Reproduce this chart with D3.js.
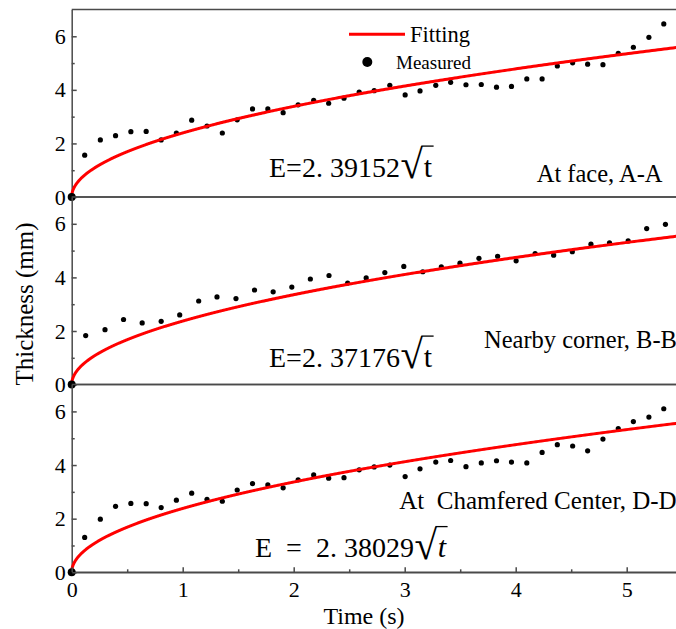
<!DOCTYPE html>
<html>
<head>
<meta charset="utf-8">
<script src="https://cdn.jsdelivr.net/npm/d3@7"></script>
<style>
  html, body { margin: 0; padding: 0; background: #fff; }
  svg { display: block; }
  text { font-family: "Liberation Serif", "Times New Roman", serif; fill: #000; }
</style>
</head>
<body>
<svg id="chart" width="676" height="629"></svg>
<script>
// ---- data ----
const timeA = [0, 0.117, 0.258, 0.395, 0.533, 0.671, 0.806, 0.943, 1.081, 1.219, 1.357, 1.491, 1.629, 1.767, 1.905, 2.04, 2.18, 2.315, 2.453, 2.59, 2.725, 2.866, 3.004, 3.138, 3.28, 3.414, 3.552, 3.69, 3.827, 3.962, 4.1, 4.238, 4.375, 4.513, 4.648, 4.786, 4.924, 5.06, 5.2, 5.334];
const thickA = [0, 1.56, 2.13, 2.29, 2.44, 2.45, 2.13, 2.39, 2.87, 2.65, 2.39, 2.88, 3.29, 3.29, 3.15, 3.44, 3.61, 3.50, 3.69, 3.92, 3.97, 4.17, 3.81, 3.96, 4.17, 4.28, 4.19, 4.20, 4.10, 4.13, 4.41, 4.41, 4.89, 5.01, 4.96, 4.94, 5.36, 5.59, 5.96, 6.46];
const timeB = [0, 0.126, 0.30, 0.467, 0.635, 0.806, 0.973, 1.144, 1.309, 1.48, 1.647, 1.815, 1.983, 2.15, 2.318, 2.486, 2.653, 2.821, 2.992, 3.163, 3.33, 3.498, 3.669, 3.837, 4.004, 4.175, 4.342, 4.51, 4.678, 4.845, 5.013, 5.18, 5.349];
const thickB = [0, 1.83, 2.05, 2.43, 2.30, 2.36, 2.60, 3.12, 3.27, 3.21, 3.53, 3.46, 3.64, 3.94, 4.07, 3.79, 3.98, 4.18, 4.41, 4.21, 4.39, 4.53, 4.71, 4.79, 4.62, 4.89, 4.83, 4.96, 5.24, 5.29, 5.36, 5.82, 5.98];
const timeD = [0, 0.117, 0.258, 0.395, 0.533, 0.671, 0.806, 0.943, 1.081, 1.219, 1.357, 1.491, 1.629, 1.767, 1.905, 2.04, 2.18, 2.315, 2.453, 2.59, 2.725, 2.866, 3.004, 3.138, 3.28, 3.414, 3.552, 3.69, 3.827, 3.962, 4.1, 4.238, 4.375, 4.513, 4.648, 4.786, 4.924, 5.06, 5.2, 5.334];
const thickD = [0, 1.30, 1.98, 2.46, 2.57, 2.56, 2.41, 2.69, 2.95, 2.72, 2.65, 3.07, 3.31, 3.26, 3.15, 3.45, 3.63, 3.51, 3.53, 3.82, 3.93, 4.0, 3.57, 3.86, 4.11, 4.17, 3.94, 4.08, 4.16, 4.11, 4.08, 4.47, 4.76, 4.71, 4.53, 4.97, 5.36, 5.62, 5.79, 6.10];
const fitCoefs = [2.39152, 2.37176, 2.38029];
const coefLabels = ["E=2. 39152", "E=2. 37176", "E\u00a0\u00a0=\u00a0\u00a02. 38029"];
const sectionLabels = ["At face, A-A", "Nearby corner, B-B", "At\u00a0\u00a0Chamfered Center, D-D"];
const yMajorTicks = [0, 2, 4, 6];
const yMinorTicks = [1, 3, 5];
const xMajorTicks = [0, 1, 2, 3, 4, 5];
const xMinorTicks = [0.5, 1.5, 2.5, 3.5, 4.5, 5.5];
const xDomain = [0, 5.5];
const yDomain = [0, 7];
const legendLabels = ["Fitting", "Measured"];
const axisTitles = ["Time (s)", "Thickness (mm)"];

// ---- layout ----
const FONT = '"Liberation Serif", "Times New Roman", serif';
const svg = d3.select("#chart");
const left = 71.7, right = 682.2;
const panelTops = [9.5, 197, 384.6];
const panelBottoms = [197, 384.6, 572.3];
const frameColor = "#4a4a4a";

const x = d3.scaleLinear().domain(xDomain).range([left, right]);

const panels = [
  { t: timeA, e: thickA },
  { t: timeB, e: thickB },
  { t: timeD, e: thickD }
];

const eqStyles = [
  { x: 269, y: 176.5, italic: false },
  { x: 269, y: 366.5, italic: false },
  { x: 255, y: 557, italic: true }
];
const secStyles = [
  { x: 536.7, y: 181.7, size: 24.5 },
  { x: 484, y: 348.3, size: 24.5 },
  { x: 399.3, y: 509.3, size: 25 }
];

// glyph ink measurement for the radical sign
const ctx = document.createElement("canvas").getContext("2d");
ctx.font = "100px " + FONT;
const radM = ctx.measureText("\u221a");
const radAsc = radM.actualBoundingBoxAscent / 100;
const radDesc = radM.actualBoundingBoxDescent / 100;
const radRight = radM.actualBoundingBoxRight / 100;
const radFs = 33 / Math.max(0.3, radAsc + radDesc);

const scalesY = panels.map((p, i) =>
  d3.scaleLinear().domain(yDomain).range([panelBottoms[i], panelTops[i]]));

panels.forEach((p, i) => {
  const y = scalesY[i];
  const g = svg.append("g");

  // frame top & bottom lines
  g.append("line").attr("x1", left).attr("x2", 676).attr("y1", panelTops[i]).attr("y2", panelTops[i])
    .attr("stroke", frameColor).attr("stroke-width", 1.5);
  g.append("line").attr("x1", left).attr("x2", 676).attr("y1", panelBottoms[i]).attr("y2", panelBottoms[i])
    .attr("stroke", frameColor).attr("stroke-width", 1.5);

  // y axes (inward ticks)
  const yMaj = g.append("g").attr("transform", `translate(${left},0)`)
    .call(d3.axisLeft(y).tickValues(yMajorTicks).tickSizeInner(-5).tickSizeOuter(0).tickPadding(6).tickFormat(d3.format("d")));
  const yMin = g.append("g").attr("transform", `translate(${left},0)`)
    .call(d3.axisLeft(y).tickValues(yMinorTicks).tickSizeInner(-3).tickSizeOuter(0).tickFormat(""));
  [yMaj, yMin].forEach(a => {
    a.selectAll("path, line").attr("stroke", frameColor).attr("stroke-width", 1.5);
  });
  yMin.select(".domain").remove();
  yMaj.selectAll("text").style("font-family", FONT).style("font-size", "22px").attr("fill", "#000");

  // measured points
  const pts = p.t.map((tv, k) => ({ t: tv, e: p.e[k] }));
  g.selectAll("circle.m").data(pts.slice(1)).join("circle").attr("class", "m")
    .attr("cx", d => x(d.t)).attr("cy", d => y(d.e)).attr("r", 2.6).attr("fill", "#000");

  // fitting curve
  const tSamples = d3.range(0, 400).map(k => xDomain[1] * Math.pow(k / 399, 2));
  const line = d3.line().x(d => x(d)).y(d => y(fitCoefs[i] * Math.sqrt(d)));
  g.append("path").attr("d", line(tSamples)).attr("fill", "none").attr("stroke", "#ff0000").attr("stroke-width", 3);

  // origin point on top
  g.append("circle").attr("cx", x(pts[0].t)).attr("cy", y(pts[0].e)).attr("r", 4).attr("fill", "#000");

  // equation label with radical
  const es = eqStyles[i];
  const eq = svg.append("text").attr("x", es.x).attr("y", es.y).style("font-size", "28px").style("white-space", "pre");
  eq.append("tspan").text(coefLabels[i]);
  const dyR = 2 - radDesc * radFs;
  eq.append("tspan").text("\u221a").style("font-size", radFs + "px").attr("dy", dyR).attr("dx", 0.5);
  const tT = eq.append("tspan").text("t").style("font-size", "30px").attr("dy", -dyR).attr("dx", 1);
  if (es.italic) tT.style("font-style", "italic");
  const n = eq.text().length;
  const tExt = eq.node().getExtentOfChar(n - 1);
  const rStart = eq.node().getStartPositionOfChar(n - 2);
  const topY = es.y + dyR - radAsc * radFs + 0.6;
  svg.append("line").attr("x1", rStart.x + radRight * radFs - 1.5).attr("x2", tExt.x + tExt.width + 1.5)
    .attr("y1", topY).attr("y2", topY).attr("stroke", "#000").attr("stroke-width", 1.3);

  // section label
  const ss = secStyles[i];
  svg.append("text").attr("x", ss.x).attr("y", ss.y).style("font-size", ss.size + "px").style("white-space", "pre")
    .text(sectionLabels[i]);
});

// x axis on bottom panel, ticks pointing up
const xMaj = svg.append("g").attr("transform", `translate(0,${panelBottoms[2]})`)
  .call(d3.axisBottom(x).tickValues(xMajorTicks).tickSizeInner(-5).tickSizeOuter(0).tickPadding(9.5).tickFormat(d3.format("d")));
const xMin = svg.append("g").attr("transform", `translate(0,${panelBottoms[2]})`)
  .call(d3.axisBottom(x).tickValues(xMinorTicks).tickSizeInner(-3).tickSizeOuter(0).tickFormat(""));
[xMaj, xMin].forEach(a => a.selectAll("path, line").attr("stroke", frameColor).attr("stroke-width", 1.5));
xMin.select(".domain").remove();
xMaj.selectAll("text").style("font-family", FONT).style("font-size", "22px").attr("fill", "#000");

// axis titles
svg.append("text").attr("x", 364).attr("y", 623.5).attr("text-anchor", "middle").style("font-size", "24px").text(axisTitles[0]);
svg.append("text").attr("transform", "translate(33,304) rotate(-90)").attr("text-anchor", "middle").style("font-size", "25px").text(axisTitles[1]);

// legend
svg.append("line").attr("x1", 349).attr("x2", 405).attr("y1", 34.3).attr("y2", 34.3).attr("stroke", "#ff0000").attr("stroke-width", 3);
svg.append("text").attr("x", 410).attr("y", 42).style("font-size", "22.5px").text(legendLabels[0]);
svg.append("circle").attr("cx", 367.3).attr("cy", 62).attr("r", 5).attr("fill", "#000");
svg.append("text").attr("x", 396).attr("y", 68.5).style("font-size", "19px").text(legendLabels[1]);
</script>
</body>
</html>
